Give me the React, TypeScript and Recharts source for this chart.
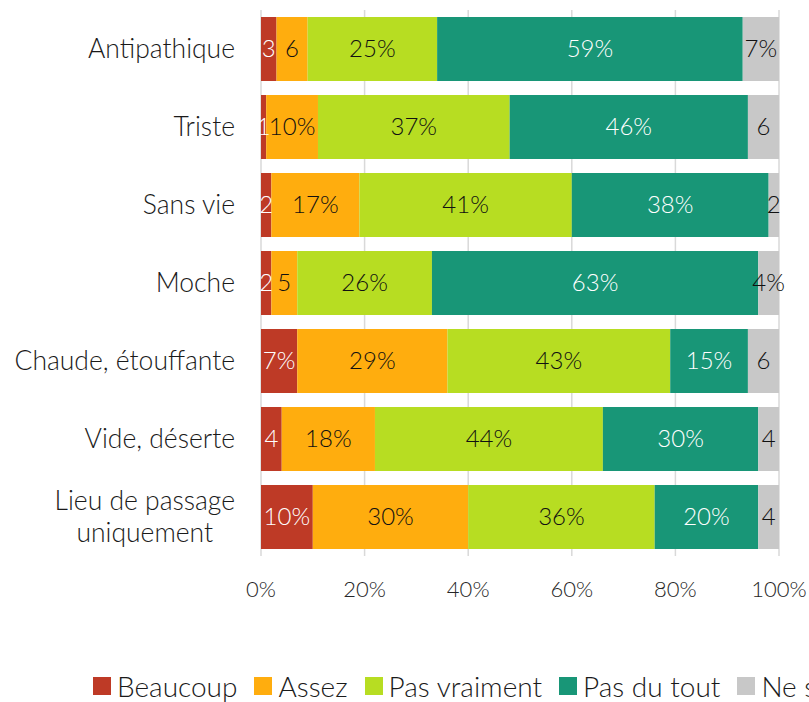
import React from 'react';
import { BarChart, Bar, XAxis, YAxis, CartesianGrid, LabelList } from 'recharts';

const categories = [
  'Antipathique',
  'Triste',
  'Sans vie',
  'Moche',
  'Chaude, étouffante',
  'Vide, déserte',
  'Lieu de passage\nuniquement',
];

const beaucoup = [3, 1, 2, 2, 7, 4, 10];
const assez = [6, 10, 17, 5, 29, 18, 30];
const pasVraiment = [25, 37, 41, 26, 43, 44, 36];
const pasDuTout = [59, 46, 38, 63, 15, 30, 20];
const neSaitPas = [7, 6, 2, 4, 6, 4, 4];

const beaucoupLabels = ['3', '1', '2', '2', '7%', '4', '10%'];
const assezLabels = ['6', '10%', '17%', '5', '29%', '18%', '30%'];
const pasVraimentLabels = ['25%', '37%', '41%', '26%', '43%', '44%', '36%'];
const pasDuToutLabels = ['59%', '46%', '38%', '63%', '15%', '30%', '20%'];
const neSaitPasLabels = ['7%', '6', '2', '4%', '6', '4', '4'];

const xTicks = [0, 20, 40, 60, 80, 100];

const FONT = 'Lato, "Open Sans", sans-serif';
const WEIGHT = 300;

const series = [
  { key: 'beaucoup', name: 'Beaucoup', color: '#BE3A26', text: '#ffffff', values: beaucoup, labels: beaucoupLabels },
  { key: 'assez', name: 'Assez', color: '#FFAD0E', text: '#111111', values: assez, labels: assezLabels },
  { key: 'pasVraiment', name: 'Pas vraiment', color: '#B7DD22', text: '#111111', values: pasVraiment, labels: pasVraimentLabels },
  { key: 'pasDuTout', name: 'Pas du tout', color: '#189677', text: '#ffffff', values: pasDuTout, labels: pasDuToutLabels },
  { key: 'neSaitPas', name: 'Ne sait pas', color: '#C8C8C8', text: '#111111', values: neSaitPas, labels: neSaitPasLabels },
];

const data = categories.map((name, i) => {
  const row: any = { name };
  series.forEach((s) => {
    row[s.key] = s.values[i];
    row[s.key + 'Label'] = s.labels[i];
  });
  return row;
});

let ctx: CanvasRenderingContext2D | null = null;
const measure = (text: string, size: number) => {
  if (!ctx) ctx = document.createElement('canvas').getContext('2d');
  if (!ctx) return text.length * size * 0.5;
  ctx.font = `${WEIGHT} ${size}px ${FONT}`;
  return ctx.measureText(text).width;
};

const CategoryTick = (props: any) => {
  const { x, y, payload } = props;
  const lines: string[] = String(payload.value).split('\n');
  const size = 26.5;
  const right = x - 18;
  if (lines.length === 1) {
    return (
      <text x={right} y={y} dy="0.35em" textAnchor="end" fontSize={size} fontFamily={FONT} fontWeight={WEIGHT} fill="#1a1a1a">
        {lines[0]}
      </text>
    );
  }
  const widest = Math.max(...lines.map((l) => measure(l, size)));
  const cx = right - widest / 2;
  const lineH = 32;
  const start = y - ((lines.length - 1) * lineH) / 2;
  return (
    <text textAnchor="middle" fontSize={size} fontFamily={FONT} fontWeight={WEIGHT} fill="#1a1a1a">
      {lines.map((l, i) => (
        <tspan key={i} x={cx} y={start + i * lineH} dy="0.35em">
          {l}
        </tspan>
      ))}
    </text>
  );
};

const makeLabel = (color: string) => (props: any) => {
  const { x, y, width, height, value } = props;
  return (
    <text
      x={x + width / 2}
      y={y + height / 2}
      dy="0.35em"
      textAnchor="middle"
      fontSize={24}
      fontFamily={FONT}
      fontWeight={WEIGHT}
      fill={color}
    >
      {value}
    </text>
  );
};

const ChartLegend = () => (
  <div
    style={{
      position: 'absolute',
      left: 93,
      top: 671,
      display: 'flex',
      whiteSpace: 'nowrap',
      fontFamily: FONT,
      fontWeight: WEIGHT,
      fontSize: 28,
      lineHeight: '30px',
      color: '#1a1a1a',
    }}
  >
    {series.map((s) => (
      <div key={s.key} style={{ display: 'flex', alignItems: 'center', marginRight: 17 }}>
        <span style={{ width: 18, height: 18, background: s.color, display: 'inline-block', marginRight: 6 }} />
        {s.name}
      </div>
    ))}
  </div>
);

export default function App() {
  return (
    <div style={{ position: 'absolute', left: 0, top: 0, width: 809, height: 702, overflow: 'hidden', background: '#fff' }}>
      <BarChart
        width={809}
        height={702}
        data={data}
        layout="vertical"
        margin={{ top: 10, right: 30, left: 0, bottom: 96 }}
        barSize={64}
      >
        <CartesianGrid horizontal={false} stroke="#D9D9D9" strokeWidth={1.5} />
        <XAxis
          type="number"
          domain={[0, 100]}
          ticks={xTicks}
          tickFormatter={(v) => `${v}%`}
          axisLine={false}
          tickLine={false}
          tickMargin={19}
          height={50}
          tick={{ fontSize: 22, fontFamily: FONT, fontWeight: WEIGHT, fill: '#262626' }}
          interval={0}
        />
        <YAxis
          type="category"
          dataKey="name"
          width={261}
          axisLine={false}
          tickLine={false}
          tick={<CategoryTick />}
          interval={0}
        />
        {series.map((s) => (
          <Bar key={s.key} dataKey={s.key} name={s.name} stackId="a" fill={s.color} isAnimationActive={false}>
            <LabelList dataKey={s.key + 'Label'} content={makeLabel(s.text)} />
          </Bar>
        ))}
      </BarChart>
      <ChartLegend />
    </div>
  );
}
